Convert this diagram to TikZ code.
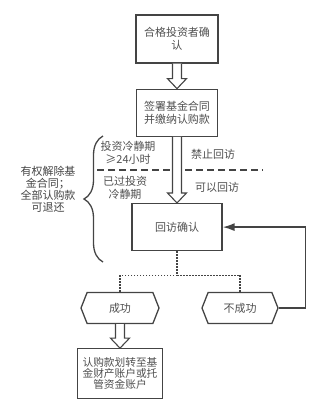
\documentclass[tikz,border=0pt]{standalone}
\usepackage{fontspec}
\setmainfont{Noto Sans CJK SC}
\usetikzlibrary{positioning, arrows.meta, calc, decorations.pathreplacing, shapes.symbols}
\definecolor{linegray}{RGB}{68,68,68}
\definecolor{textgray}{RGB}{80,80,80}

\newcommand{\fatarrow}[2]{%
  \draw[fatline] let \p1=(#1), \p2=(#2) in
    (\x1-4.5pt,\y1) -- (\x1-4.5pt,\y2+10pt) -- (\x1-9.5pt,\y2+10pt) -- (\x1,\y2)
    -- (\x1+9.5pt,\y2+10pt) -- (\x1+4.5pt,\y2+10pt) -- (\x1+4.5pt,\y1);}

\begin{document}
\begin{tikzpicture}[x=1pt, y=-1pt,
        every node/.style={text=textgray, font=\fontsize{11}{12.5}\selectfont},
        stepbox/.style={draw=linegray, line width=1.3pt, fill=white, align=center, inner sep=2pt},
        hexbox/.style={signal, signal to=west and east, signal pointer angle=137,
            draw=linegray, line width=1.3pt, fill=white, minimum height=31pt, inner sep=2pt},
        fatline/.style={draw=linegray, line width=1.1pt, fill=white, line join=miter},
        dotline/.style={draw=linegray, line width=1.5pt, dash pattern=on 1.5pt off 1.5pt},
        backline/.style={draw=linegray, line width=1.6pt, -{Latex[length=12pt, width=8pt]}}]
      \useasboundingbox (0,0) rectangle (323,408);
      % Main boxes
      \node[stepbox, minimum width=82pt, minimum height=48pt] (confirm) at (177,39) {合格投资者确\\认};
      \node[stepbox, minimum width=81pt, minimum height=47pt, below=25pt of confirm] (sign) {签署基金合同\\并缴纳认购款};
      \node[stepbox, minimum width=90pt, minimum height=47pt, below=66pt of sign] (visit) {回访确认};
      % Outcomes
      \node[hexbox, minimum width=78pt] (ok) at (120,308) {成功};
      \node[hexbox, minimum width=76pt] (fail) at (240,308) {不成功};
      \node[stepbox, minimum width=85pt, minimum height=50pt, below=24pt of ok,
            font=\fontsize{10.7}{11}\selectfont] (transfer) {认购款划转至基\\金财产账户或托\\管资金账户};
      % Cooling-off split
      \coordinate (dashL) at (97,170);
      \coordinate (dashR) at (263,170);
      \draw[linegray, line width=1.2pt, dash pattern=on 7pt off 4pt] (dashL) -- (dashR);
      \fatarrow{confirm.south}{sign.north}
      \fatarrow{sign.south}{visit.north}
      \fatarrow{ok.south}{transfer.north}
      \node[align=center] (cool) at (128,153) {投资冷静期\\≥24小时};
      \node[align=center] (past) at (125,188) {已过投资\\冷静期};
      \node (forbid) at (213,154) {禁止回访};
      \node (allow) at (217,187) {可以回访};
      % Brace and rights
      \coordinate (braceB) at (103,262);
      \coordinate (braceT) at (103,136);
      \draw[linegray, line width=1.3pt, decorate, decoration={brace, amplitude=19pt}] (braceB) -- (braceT);
      \node[align=center, text=linegray, font=\fontsize{11}{12}\selectfont] (rights) at (48,189) {有权解除基\\金合同；\\全部认购款\\可退还};
      % Branches
      \draw[dotline] (visit.south) -- ++(0,24) -| (ok.north);
      \draw[dotline] (visit.south) -- ++(0,24) -| (fail.north);
      \draw[backline] (fail.east) -- ++(27,0) |- (visit.east);
    \end{tikzpicture}
\end{document}
